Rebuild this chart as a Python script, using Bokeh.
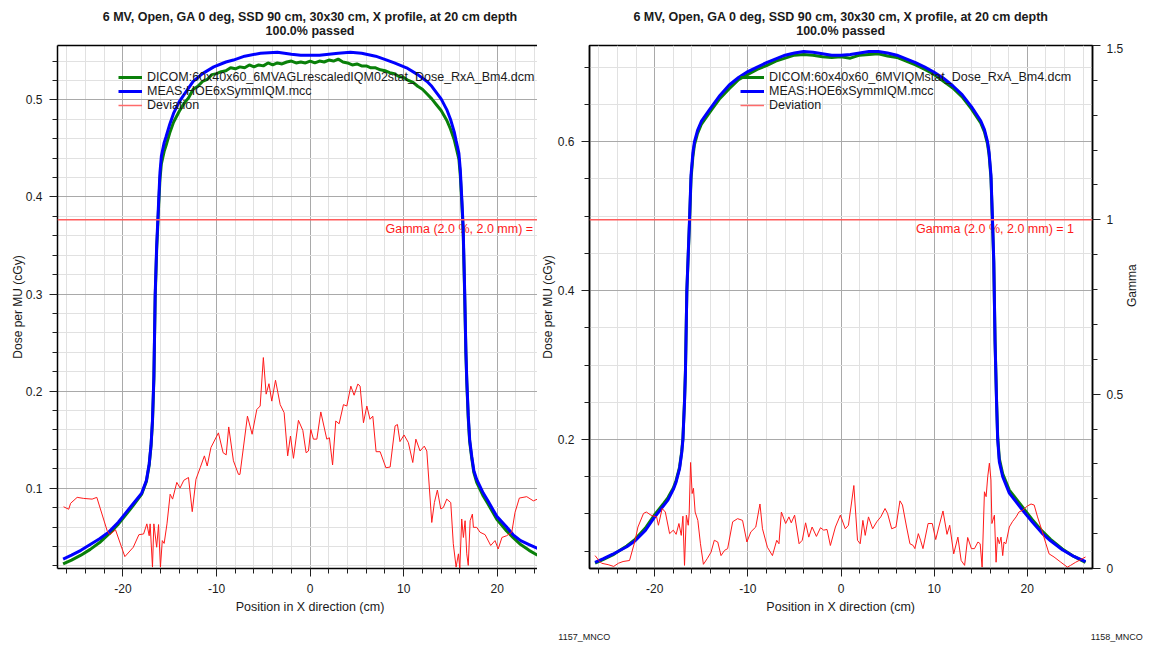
from bokeh.core.properties import value
from bokeh.embed import file_html
from bokeh.layouts import column, row
from bokeh.models import (Div, FixedTicker, Legend, LegendItem, LinearAxis, Range1d,
                          Span)
from bokeh.plotting import figure
from bokeh.resources import INLINE
import math

FONT = "Liberation Sans"

# ---------------------------------------------------------------- text
TITLE = "6 MV, Open, GA 0 deg, SSD 90 cm, 30x30 cm, X profile, at 20 cm depth"
SUBTITLE = "100.0% passed"
X_LABEL = "Position in X direction (cm)"
Y_LABEL = "Dose per MU (cGy)"
GAMMA_AXIS_LABEL = "Gamma"
GAMMA_TEXT = "Gamma (2.0 %, 2.0 mm) = 1"
GAMMA_LIMIT = 1.0
GAMMA_TEXT_X = 8.05

LEFT_DICOM_NAME = "DICOM:60x40x60_6MVAGLrescaledIQM02stat_Dose_RxA_Bm4.dcm"
RIGHT_DICOM_NAME = "DICOM:60x40x60_6MVIQMstat_Dose_RxA_Bm4.dcm"
MEAS_NAME = "MEAS:HOE6xSymmIQM.mcc"
DEV_NAME = "Deviation"
LEFT_ID = "1157_MNCO"
RIGHT_ID = "1158_MNCO"

# ---------------------------------------------------------------- ticks
X_MAJOR = [-20, -10, 0, 10, 20]
X_LABELS = {-20: "-20", -10: "-10", 0: "0", 10: "10", 20: "20"}
LEFT_Y_MAJOR = [0.1, 0.2, 0.3, 0.4, 0.5]
RIGHT_Y_MAJOR = [0.2, 0.4, 0.6]
GAMMA_MAJOR = [0.0, 0.5, 1.0, 1.5]
GAMMA_LABELS = {0.0: "0", 0.5: "0.5", 1.0: "1", 1.5: "1.5"}

# ---------------------------------------------------------------- left panel data
LEFT_MEAS_X = [-26.4, -25.5, -24.5, -23.5, -22.5, -21.5, -20.5, -20.0, -19.0, -18.0,
               -17.5, -17.2, -17.0, -16.85, -16.7, -16.56, -16.4, -16.27, -16.17, -16.05,
               -15.9, -15.6, -15.4, -15.0, -14.6, -14.0, -13.0, -12.5, -11.5, -10.3,
               -9.0, -8.2, -7.0, -5.3, -3.5, -2.0, -1.0, 0.0, 1.0, 2.0,
               3.0, 4.3, 5.5, 7.0, 8.2, 9.0, 10.3, 11.5, 12.5, 13.0,
               14.0, 14.6, 15.0, 15.4, 15.6, 15.9, 16.05, 16.2, 16.35, 16.5,
               16.65, 16.74, 16.9, 17.05, 17.27, 17.5, 17.8, 18.5, 19.0, 19.95,
               21.0, 21.7, 22.5, 23.4, 24.3]
LEFT_MEAS_DOSE = [0.027, 0.031, 0.036, 0.042, 0.048, 0.055, 0.065, 0.071, 0.083, 0.095,
                  0.108, 0.125, 0.145, 0.170, 0.215, 0.300, 0.350, 0.378, 0.400, 0.425,
                  0.442, 0.456, 0.462, 0.475, 0.486, 0.498, 0.512, 0.519, 0.527, 0.534,
                  0.539, 0.541, 0.545, 0.548, 0.549, 0.547, 0.546, 0.546, 0.546, 0.547,
                  0.548, 0.549, 0.548, 0.545, 0.541, 0.538, 0.533, 0.526, 0.519, 0.514,
                  0.501, 0.490, 0.480, 0.467, 0.458, 0.445, 0.428, 0.400, 0.370, 0.310,
                  0.240, 0.212, 0.175, 0.150, 0.133, 0.118, 0.109, 0.095, 0.087, 0.071,
                  0.060, 0.052, 0.046, 0.042, 0.038]

LEFT_DICOM_X = [-26.4, -25.5, -24.5, -23.5, -22.5, -21.5, -20.5, -20.0, -19.0, -18.0,
                -17.5, -17.2, -17.0, -16.85, -16.7, -16.56, -16.4, -16.27, -16.17, -16.05,
                -15.9, -15.6, -15.4, -15.0, -14.6, -14.0, -13.5, -13.0, -12.5, -12.0,
                -11.5, -11.0, -10.5, -10.0, -9.5, -9.0, -8.5, -8.0, -7.5, -7.0,
                -6.5, -6.0, -5.5, -5.0, -4.5, -4.0, -3.5, -3.0, -2.5, -2.0,
                -1.5, -1.0, -0.5, 0.0, 0.5, 1.0, 1.5, 2.0, 2.5, 3.0,
                3.5, 4.0, 4.5, 5.0, 5.5, 6.0, 6.5, 7.0, 7.5, 8.0,
                8.5, 9.0, 9.5, 10.0, 10.5, 11.0, 11.5, 12.0, 12.5, 13.0,
                13.5, 14.0, 14.6, 15.0, 15.4, 15.6, 15.9, 16.05, 16.2, 16.35,
                16.5, 16.65, 16.74, 16.9, 17.05, 17.27, 17.5, 17.8, 18.5, 19.0,
                19.95, 21.0, 21.7, 22.5, 23.4, 24.3]
LEFT_DICOM_DOSE = [0.022, 0.026, 0.031, 0.037, 0.044, 0.053, 0.063, 0.069, 0.081, 0.094,
                   0.107, 0.124, 0.144, 0.168, 0.212, 0.296, 0.346, 0.373, 0.395, 0.418,
                   0.434, 0.447, 0.453, 0.466, 0.477, 0.488, 0.496, 0.502, 0.511, 0.514,
                   0.519, 0.521, 0.526, 0.527, 0.529, 0.530, 0.533, 0.532, 0.534, 0.533,
                   0.536, 0.534, 0.536, 0.535, 0.538, 0.536, 0.538, 0.537, 0.539, 0.540,
                   0.538, 0.539, 0.538, 0.540, 0.538, 0.540, 0.539, 0.541, 0.540, 0.542,
                   0.539, 0.538, 0.536, 0.537, 0.535, 0.535, 0.533, 0.533, 0.531, 0.530,
                   0.528, 0.527, 0.524, 0.523, 0.520, 0.518, 0.514, 0.511, 0.506, 0.501,
                   0.495, 0.489, 0.479, 0.470, 0.459, 0.451, 0.439, 0.422, 0.396, 0.366,
                   0.306, 0.238, 0.210, 0.172, 0.148, 0.131, 0.116, 0.106, 0.092, 0.084,
                   0.068, 0.056, 0.049, 0.042, 0.036, 0.031]

LEFT_DEV_X = [-26.35, -25.8, -25.6, -24.9, -24.2, -23.3, -22.8, -21.7, -21.4, -20.8,
              -19.8, -18.9, -18.3, -17.8, -17.45, -17.2, -17.1, -16.85, -16.7, -16.4,
              -16.2, -16.0, -15.8, -15.6, -15.3, -14.96, -14.7, -14.25, -13.9, -13.5,
              -13.0, -12.6, -12.2, -11.75, -11.3, -11.0, -10.6, -9.8, -9.3, -8.97,
              -8.7, -8.2, -7.66, -7.5, -6.7, -6.2, -5.7, -5.34, -5.0, -4.7,
              -4.4, -4.1, -3.7, -3.2, -2.78, -2.4, -2.1, -1.78, -1.25, -0.78,
              -0.43, -0.18, 0.07, 0.35, 0.72, 1.14, 1.78, 2.06, 2.4, 2.74,
              3.1, 3.56, 3.92, 4.35, 4.7, 5.1, 5.34, 5.7, 6.06, 6.4,
              6.7, 7.05, 7.48, 8.1, 8.55, 9.08, 9.33, 9.6, 10.04, 10.5,
              10.97, 11.3, 11.75, 12.2, 12.47, 13.0, 13.28, 13.6, 13.96, 14.24,
              14.6, 15.03, 15.3, 15.6, 15.85, 16.0, 16.2, 16.38, 16.56, 16.74,
              16.9, 17.1, 17.34, 17.45, 17.8, 18.16, 18.7, 19.3, 19.76, 20.1,
              20.5, 21.0, 21.55, 21.9, 22.36, 23.15, 23.86, 24.3]
LEFT_DEV_GAMMA = [0.177, 0.170, 0.187, 0.204, 0.201, 0.199, 0.204, 0.109, 0.097, 0.111,
                  0.034, 0.061, 0.097, 0.099, 0.128, 0.094, 0.128, 0.004, 0.128, 0.061,
                  0.126, 0.004, 0.080, 0.072, 0.128, 0.213, 0.199, 0.247, 0.231, 0.253,
                  0.261, 0.163, 0.256, 0.289, 0.323, 0.294, 0.347, 0.389, 0.332, 0.326,
                  0.406, 0.309, 0.270, 0.270, 0.437, 0.385, 0.456, 0.466, 0.605, 0.500,
                  0.530, 0.480, 0.540, 0.470, 0.447, 0.323, 0.380, 0.316, 0.425, 0.396,
                  0.332, 0.337, 0.399, 0.371, 0.371, 0.449, 0.371, 0.375, 0.297, 0.423,
                  0.415, 0.470, 0.466, 0.523, 0.497, 0.529, 0.523, 0.418, 0.466, 0.428,
                  0.437, 0.335, 0.335, 0.289, 0.291, 0.409, 0.413, 0.364, 0.383, 0.361,
                  0.304, 0.371, 0.337, 0.351, 0.337, 0.132, 0.189, 0.225, 0.171, 0.175,
                  0.199, 0.189, 0.071, 0.004, 0.042, 0.000, 0.142, 0.089, 0.137, 0.042,
                  0.009, 0.137, 0.156, 0.118, 0.118, 0.104, 0.097, 0.066, 0.080, 0.056,
                  0.089, 0.094, 0.104, 0.161, 0.202, 0.206, 0.194, 0.199]

# ---------------------------------------------------------------- right panel data
RIGHT_X = [-26.4, -25.5, -24.5, -23.9, -23.0, -22.1, -21.0, -20.0, -19.0, -18.57,
           -18.0, -17.7, -17.33, -17.1, -16.97, -16.8, -16.7, -16.55, -16.4, -16.26,
           -16.1, -15.9, -15.73, -15.4, -15.0,
           -14.0, -13.0, -12.0, -11.0, -10.0, -9.0, -8.0, -7.0, -6.0, -5.0,
           -4.0, -3.0, -2.0, -1.0, 0.0, 1.0, 2.0, 3.0, 4.0, 5.0,
           6.0, 7.0, 8.0, 9.0, 10.0, 11.0, 12.0, 13.0, 14.0,
           15.0, 15.4, 15.73, 15.9, 16.1, 16.26, 16.4, 16.54, 16.7, 16.82,
           17.0, 17.36, 18.07, 19.5, 20.5, 21.6, 22.5, 23.76, 25.0, 26.25]
RIGHT_MEAS_DOSE = [0.035, 0.040, 0.046, 0.050, 0.056, 0.064, 0.078, 0.096, 0.112, 0.119,
                   0.133, 0.143, 0.161, 0.182, 0.200, 0.250, 0.290, 0.400, 0.450, 0.496,
                   0.555, 0.585, 0.600, 0.615, 0.627,
                   0.645, 0.662, 0.676, 0.686, 0.694, 0.700, 0.706, 0.711, 0.716, 0.719,
                   0.721, 0.720, 0.718, 0.716, 0.716, 0.717, 0.719, 0.721, 0.721, 0.719,
                   0.716, 0.711, 0.706, 0.700, 0.693, 0.685, 0.675, 0.663, 0.647,
                   0.628, 0.616, 0.600, 0.585, 0.555, 0.496, 0.440, 0.330, 0.250, 0.200,
                   0.170, 0.150, 0.128, 0.105, 0.090, 0.074, 0.064, 0.052, 0.043, 0.036]
RIGHT_DICOM_DOSE = [0.034, 0.039, 0.045, 0.050, 0.057, 0.066, 0.081, 0.099, 0.115, 0.122,
                    0.135, 0.145, 0.163, 0.184, 0.202, 0.252, 0.292, 0.398, 0.447, 0.492,
                    0.550, 0.580, 0.596, 0.611, 0.623,
                    0.641, 0.658, 0.671, 0.683, 0.690, 0.697, 0.702, 0.708, 0.712, 0.716,
                    0.717, 0.716, 0.714, 0.713, 0.714, 0.712, 0.716, 0.717, 0.718, 0.715,
                    0.713, 0.708, 0.703, 0.697, 0.690, 0.681, 0.672, 0.660, 0.644,
                    0.625, 0.613, 0.597, 0.582, 0.551, 0.493, 0.438, 0.332, 0.253, 0.204,
                    0.174, 0.154, 0.132, 0.109, 0.093, 0.077, 0.066, 0.053, 0.043, 0.035]

RIGHT_DEV_X = [-26.4, -26.0, -25.7, -25.0, -24.4, -23.9, -23.4, -22.7, -22.1, -21.8,
               -21.2, -20.9, -20.4, -19.8, -19.6, -19.2, -18.86, -18.4, -18.0, -17.7,
               -17.4, -17.15, -16.97, -16.8, -16.6, -16.4, -16.3, -16.15, -15.98, -15.84,
               -15.66, -15.37, -15.09, -14.77, -14.37, -13.95, -13.6, -13.23, -12.88, -12.5,
               -12.17, -11.63, -11.1, -10.57, -10.1, -9.68, -9.15, -8.7, -8.43, -7.9,
               -7.36, -6.9, -6.66, -6.4, -5.94, -5.59, -5.34, -4.98, -4.5, -4.16,
               -3.8, -3.46, -3.1, -2.64, -2.2, -1.86, -1.5, -1.14, -0.6, -0.07,
               0.46, 0.8, 1.38, 1.77, 2.06, 2.35, 2.6, 2.95, 3.4, 3.84,
               4.27, 4.73, 5.0, 5.44, 5.9, 6.33, 6.6, 7.04, 7.4, 7.75,
               7.93, 8.3, 8.54, 8.8, 9.35, 9.8, 10.17, 10.5, 10.95, 11.38,
               11.67, 12.1, 12.55, 12.9, 13.27, 13.6, 14.0, 14.33, 14.7, 14.94,
               15.15, 15.4, 15.58, 15.75, 15.93, 16.1, 16.2, 16.47, 16.65, 16.8,
               17.0, 17.18, 17.36, 17.5, 17.7, 18.07, 18.4, 18.8, 19.1, 19.5,
               20.0, 20.4, 20.74, 21.1, 21.56, 22.0, 22.34, 22.87, 23.6, 24.3,
               24.65, 25.2, 25.7, 26.25]
RIGHT_DEV_GAMMA = [0.037, 0.023, 0.015, 0.011, 0.006, 0.015, 0.020, 0.023, 0.081, 0.119,
                   0.158, 0.162, 0.153, 0.148, 0.124, 0.172, 0.162, 0.100, 0.110, 0.098,
                   0.129, 0.095, 0.150, 0.009, 0.153, 0.124, 0.158, 0.304, 0.215, 0.230,
                   0.162, 0.138, 0.071, 0.012, 0.028, 0.047, 0.081, 0.076, 0.037, 0.052,
                   0.057, 0.134, 0.143, 0.138, 0.076, 0.105, 0.119, 0.185, 0.114, 0.061,
                   0.037, 0.081, 0.071, 0.162, 0.129, 0.148, 0.131, 0.153, 0.071, 0.081,
                   0.131, 0.090, 0.119, 0.092, 0.117, 0.110, 0.112, 0.066, 0.119, 0.153,
                   0.114, 0.124, 0.238, 0.081, 0.071, 0.138, 0.095, 0.148, 0.114, 0.134,
                   0.148, 0.172, 0.158, 0.114, 0.119, 0.194, 0.182, 0.119, 0.071, 0.066,
                   0.057, 0.100, 0.081, 0.057, 0.129, 0.129, 0.083, 0.119, 0.165, 0.098,
                   0.124, 0.042, 0.090, 0.023, 0.009, 0.089, 0.057, 0.057, 0.076, 0.071,
                   0.004, 0.220, 0.206, 0.263, 0.302, 0.254, 0.129, 0.153, 0.018, 0.090,
                   0.071, 0.090, 0.037, 0.076, 0.071, 0.119, 0.134, 0.148, 0.162, 0.167,
                   0.179, 0.185, 0.182, 0.148, 0.110, 0.071, 0.042, 0.033, 0.018, 0.004,
                   0.009, 0.018, 0.025, 0.033]

# ---------------------------------------------------------------- styling
GREEN = "#0a800a"
BLUE = "#0000ff"
RED = "#ff1a1a"
LEGEND_RED = "#ff6a6a"
LIMIT_RED = "#ff5c5c"
MAJOR_GRID = "#a9a9a9"
MINOR_GRID = "#e1e1e1"
TEXT = "#1a1a1a"

PAGE_W = 1155
HEADER_H = 43
FOOTER_H = 46
PLOT_H = 646 - HEADER_H - FOOTER_H
GAMMA_RANGE = (0.0, 1.5)

# horizontal centres of each panel's title and x-axis caption (page pixels)
LEFT_CENTER = 310
RIGHT_CENTER = 840.7


def minor_ticks(start, stop, step, every):
    """Minor tick positions from start to stop, skipping the major ones."""
    out = []
    n = int(round((stop - start) / step))
    for i in range(n + 1):
        v = round(start + i * step, 6)
        if abs(v / every - round(v / every)) > 1e-6:
            out.append(v)
    return out


def style_axis(ax, ticker, standoff):
    ax.ticker = ticker
    ax.axis_line_color = "black"
    ax.axis_line_width = 1.5
    ax.major_tick_line_color = "#202020"
    ax.minor_tick_line_color = "#202020"
    ax.major_tick_out = 8
    ax.major_tick_in = 0
    ax.minor_tick_out = 5
    ax.minor_tick_in = 0
    ax.major_label_text_font = FONT
    ax.major_label_text_font_size = "12px"
    ax.major_label_text_color = TEXT
    ax.major_label_standoff = standoff
    ax.axis_label_text_font = FONT
    ax.axis_label_text_font_size = "12px"
    ax.axis_label_text_font_style = "normal"
    ax.axis_label_text_color = TEXT


def make_panel(width, border_left, border_right, label_standoff, x_range, y_range,
               y_major, y_minor, dicom_x, dicom_y, meas_x, meas_y, dev_x, dev_y,
               dicom_name, legend_x, gamma_axis):
    p = figure(width=width, height=PLOT_H,
               x_range=Range1d(*x_range), y_range=Range1d(*y_range),
               output_backend="svg", toolbar_location=None, tools="",
               min_border_left=border_left, min_border_right=border_right,
               min_border_top=2, min_border_bottom=32,
               background_fill_color="white", border_fill_color="white")
    p.extra_y_ranges = {"gamma": Range1d(*GAMMA_RANGE)}

    x_ticker = FixedTicker(ticks=X_MAJOR, minor_ticks=minor_ticks(-26, 26, 2, 10))
    y_ticker = FixedTicker(ticks=y_major, minor_ticks=y_minor)
    style_axis(p.xaxis[0], x_ticker, 7)
    p.xaxis[0].major_label_overrides = X_LABELS
    style_axis(p.yaxis[0], y_ticker, 7)
    p.yaxis[0].axis_label = Y_LABEL
    p.yaxis[0].axis_label_standoff = label_standoff

    for g, t in ((p.xgrid[0], x_ticker), (p.ygrid[0], y_ticker)):
        g.ticker = t
        g.grid_line_color = MAJOR_GRID
        g.grid_line_width = 1
        g.minor_grid_line_color = MINOR_GRID
        g.minor_grid_line_width = 1

    if gamma_axis:
        p.outline_line_color = "black"
        p.outline_line_width = 1.5
        g_ax = LinearAxis(y_range_name="gamma")
        style_axis(g_ax, FixedTicker(ticks=GAMMA_MAJOR,
                                     minor_ticks=minor_ticks(0.1, 1.4, 0.1, 0.5)), 6)
        g_ax.major_label_overrides = GAMMA_LABELS
        g_ax.axis_label = GAMMA_AXIS_LABEL
        g_ax.axis_label_standoff = 6
        g_ax.axis_label_orientation = math.pi / 2
        p.add_layout(g_ax, "right")
    else:
        p.outline_line_color = None
        top = LinearAxis(ticker=FixedTicker(ticks=[]), major_label_text_font_size="0px",
                         major_tick_out=0, major_tick_in=0, minor_tick_out=0,
                         minor_tick_in=0, axis_line_color="black", axis_line_width=1.5)
        p.add_layout(top, "above")

    # pass/fail threshold of the gamma index
    p.add_layout(Span(location=GAMMA_LIMIT, dimension="width", y_range_name="gamma",
                      line_color=LIMIT_RED, line_width=1.5))
    p.text(x=[GAMMA_TEXT_X], y=[GAMMA_LIMIT], text=[GAMMA_TEXT], y_range_name="gamma",
           text_font=value(FONT), text_font_size="12.5px", text_color=RED,
           text_align="left", text_baseline="top", y_offset=2)

    r_dicom = p.line(dicom_x, dicom_y, line_color=GREEN, line_width=3)
    r_meas = p.line(meas_x, meas_y, line_color=BLUE, line_width=3)
    p.line(dev_x, dev_y, line_color=RED, line_width=1, y_range_name="gamma")
    # legend swatch for the gamma curve; its single point is blank, so nothing plots
    r_dev_key = p.line(x=[math.nan], y=[math.nan], line_color=LEGEND_RED, line_width=1.5)

    legend = Legend(items=[LegendItem(label=dicom_name, renderers=[r_dicom]),
                           LegendItem(label=MEAS_NAME, renderers=[r_meas]),
                           LegendItem(label=DEV_NAME, renderers=[r_dev_key])],
                    location=(legend_x, 456),
                    label_text_font=FONT, label_text_font_size="12.5px",
                    label_text_color=TEXT, label_height=14, glyph_height=14,
                    glyph_width=24, label_standoff=5, spacing=0, padding=0, margin=0,
                    border_line_color=None, background_fill_alpha=0)
    p.add_layout(legend)
    return p


def positioned(text, x, y, size, bold=False, anchor="center"):
    """An absolutely placed line of text; x, y give its anchor point in pixels."""
    shift = {"center": "-50%", "left": "0", "right": "-100%"}[anchor]
    weight = "bold" if bold else "normal"
    return (f'<span style="position:absolute;left:{x}px;top:{y}px;'
            f'transform:translate({shift},-50%);white-space:nowrap;'
            f"font-family:'{FONT}';font-size:{size};font-weight:{weight};"
            f'color:{TEXT};line-height:1;">{text}</span>')


def strip(height, parts):
    html = (f'<div style="position:relative;width:{PAGE_W}px;height:{height}px;'
            f'overflow:hidden;">' + "".join(parts) + "</div>")
    return Div(text=html, width=PAGE_W, height=height, margin=0)


header = strip(HEADER_H, [
    positioned(TITLE, LEFT_CENTER, 17, "12.5px", bold=True),
    positioned(SUBTITLE, LEFT_CENTER, 31, "12.5px", bold=True),
    positioned(TITLE, RIGHT_CENTER, 17, "12.5px", bold=True),
    positioned(SUBTITLE, RIGHT_CENTER, 31, "12.5px", bold=True),
])

footer = strip(FOOTER_H, [
    positioned(X_LABEL, LEFT_CENTER, 7, "12.5px"),
    positioned(X_LABEL, RIGHT_CENTER, 7, "12.5px"),
    positioned(LEFT_ID, 558.3, 37, "9px", anchor="left"),
    positioned(RIGHT_ID, 1142.7, 37, "9px", anchor="right"),
])

left = make_panel(537, 57, 0, -2, (-27.0, 24.3), (0.0173, 0.556), LEFT_Y_MAJOR,
                  minor_ticks(0.02, 0.54, 0.02, 0.1),
                  LEFT_DICOM_X, LEFT_DICOM_DOSE, LEFT_MEAS_X, LEFT_MEAS_DOSE,
                  LEFT_DEV_X, LEFT_DEV_GAMMA, LEFT_DICOM_NAME, 61, False)

right = make_panel(618, 52, 63, 0, (-27.0, 27.0), (0.0268, 0.729), RIGHT_Y_MAJOR,
                   minor_ticks(0.05, 0.7, 0.05, 0.2),
                   RIGHT_X, RIGHT_DICOM_DOSE, RIGHT_X, RIGHT_MEAS_DOSE,
                   RIGHT_DEV_X, RIGHT_DEV_GAMMA, RIGHT_DICOM_NAME, 151, True)

page = column(header, row(left, right, margin=0), footer, margin=0)
open("out.html", "w").write(file_html(page, INLINE))
